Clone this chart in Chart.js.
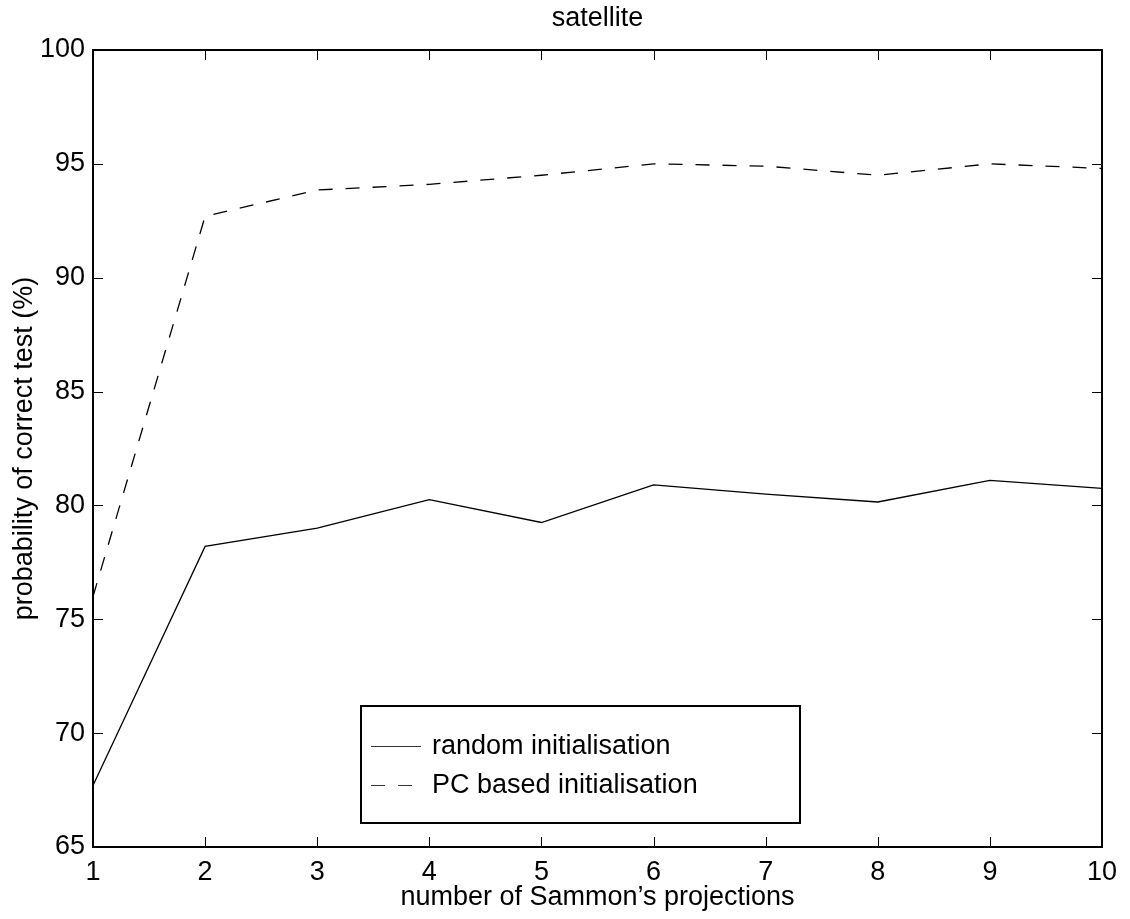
<!DOCTYPE html>
<html>
<head>
<meta charset="utf-8">
<script src="https://cdn.jsdelivr.net/npm/chart.js@4.4.1/dist/chart.umd.min.js"></script>
<style>
  html, body { margin: 0; padding: 0; background: #fff; }
  #wrap { width: 1130px; height: 919px; position: relative; }
</style>
</head>
<body>
<div id="wrap"><canvas id="grafico"></canvas></div>
<script>
// valores
const projecoes = [1, 2, 3, 4, 5, 6, 7, 8, 9, 10]
const randomInit = [67.7, 78.2, 79.0, 80.25, 79.25, 80.9, 80.5, 80.15, 81.1, 80.75]
const pcInit = [76.0, 92.7, 93.85, 94.1, 94.5, 95.0, 94.9, 94.5, 95.0, 94.8]
const xTicks = [1, 2, 3, 4, 5, 6, 7, 8, 9, 10]
const yTicks = [65, 70, 75, 80, 85, 90, 95, 100]
const nomesSeries = ['random initialisation', 'PC based initialisation']
const tituloGrafico = 'satellite'

const fonte = "'Liberation Sans', Arial, Helvetica, sans-serif"
Chart.defaults.font.family = fonte
Chart.defaults.color = '#000'

// titulo centrado sobre a area do grafico (como no matlab)
const tituloCentro = {
    id: 'tituloCentro',
    afterDraw(chart) {
        const ctx = chart.ctx
        const a = chart.chartArea
        ctx.save()
        ctx.font = "27px " + fonte
        ctx.fillStyle = '#000'
        ctx.textAlign = 'center'
        ctx.textBaseline = 'middle'
        ctx.fillText(tituloGrafico, (a.left + a.right) / 2, a.top - 31)
        ctx.restore()
    }
}

// caixa + ticks para dentro
const caixaEixos = {
    id: 'caixaEixos',
    afterDatasetsDraw(chart) {
        const ctx = chart.ctx
        const a = chart.chartArea
        const sx = chart.scales.x
        const sy = chart.scales.y
        ctx.save()
        ctx.strokeStyle = '#000'
        ctx.lineWidth = 1
        xTicks.forEach(v => {
            const px = Math.round(sx.getPixelForValue(v)) + 0.5
            ctx.beginPath()
            ctx.moveTo(px, a.bottom); ctx.lineTo(px, a.bottom - 10)
            ctx.moveTo(px, a.top); ctx.lineTo(px, a.top + 10)
            ctx.stroke()
        })
        yTicks.forEach(v => {
            const py = Math.round(sy.getPixelForValue(v)) + 0.5
            ctx.beginPath()
            ctx.moveTo(a.left, py); ctx.lineTo(a.left + 10, py)
            ctx.moveTo(a.right, py); ctx.lineTo(a.right - 10, py)
            ctx.stroke()
        })
        ctx.lineWidth = 2
        ctx.strokeRect(a.left, a.top, a.right - a.left, a.bottom - a.top)
        ctx.restore()
    }
}

// legenda dentro do grafico
const legendaCaixa = {
    id: 'legendaCaixa',
    afterDraw(chart) {
        const ctx = chart.ctx
        const a = chart.chartArea
        const x0 = a.left + 268, y0 = a.top + 656
        const w = 439, h = 117
        ctx.save()
        ctx.fillStyle = '#fff'
        ctx.fillRect(x0, y0, w, h)
        ctx.strokeStyle = '#000'
        ctx.lineWidth = 2
        ctx.strokeRect(x0, y0, w, h)
        ctx.font = "27px " + fonte
        ctx.textBaseline = 'middle'
        ctx.fillStyle = '#000'
        chart.data.datasets.forEach((ds, i) => {
            const ly = y0 + 40 + i * 39
            ctx.beginPath()
            ctx.strokeStyle = '#333'
            ctx.lineWidth = 1
            ctx.setLineDash(ds.borderDash || [])
            ctx.moveTo(x0 + 10, Math.round(ly) + 0.5)
            ctx.lineTo(x0 + 60, Math.round(ly) + 0.5)
            ctx.stroke()
            ctx.setLineDash([])
            ctx.fillText(ds.label, x0 + 71, ly + 1)
        })
        ctx.restore()
    }
}

const grafico = new Chart(document.getElementById('grafico'), {
    type: 'line',
    data: {
        datasets: [{
            label: nomesSeries[0],
            data: projecoes.map((x, i) => ({ x: x, y: randomInit[i] })),
            borderColor: '#000',
            borderWidth: 1.3,
            pointRadius: 0,
            fill: false,
            tension: 0
        }, {
            label: nomesSeries[1],
            data: projecoes.map((x, i) => ({ x: x, y: pcInit[i] })),
            borderColor: '#000',
            borderWidth: 1.3,
            borderDash: [14, 13],
            pointRadius: 0,
            fill: false,
            tension: 0
        }]
    },
    options: {
        responsive: true,
        maintainAspectRatio: false,
        animation: false,
        devicePixelRatio: 1,
        layout: { padding: { top: 50, right: 28, bottom: 0, left: 0 } },
        plugins: {
            legend: { display: false },
            tooltip: { enabled: false },
            title: { display: false }
        },
        scales: {
            x: {
                type: 'linear',
                min: 1,
                max: 10,
                afterBuildTicks: (s) => { s.ticks = xTicks.map(v => ({ value: v })) },
                afterFit: (s) => { s.height = 72 },
                grid: { display: false, drawTicks: false },
                border: { display: false },
                ticks: { font: { size: 27 }, padding: 9, maxRotation: 0, autoSkip: false },
                title: {
                    display: true,
                    text: 'number of Sammon’s projections',
                    font: { size: 27 },
                    padding: { top: 0, bottom: 5 }
                }
            },
            y: {
                min: 65,
                max: 100,
                afterBuildTicks: (s) => { s.ticks = yTicks.map(v => ({ value: v })) },
                afterFit: (s) => { s.width = 93 },
                grid: { display: false, drawTicks: false },
                border: { display: false },
                ticks: { font: { size: 27 }, padding: 8 },
                title: {
                    display: true,
                    text: 'probability of correct test (%)',
                    font: { size: 27 },
                    padding: { top: 8, bottom: 0 }
                }
            }
        }
    },
    plugins: [caixaEixos, legendaCaixa, tituloCentro]
})
</script>
</body>
</html>
